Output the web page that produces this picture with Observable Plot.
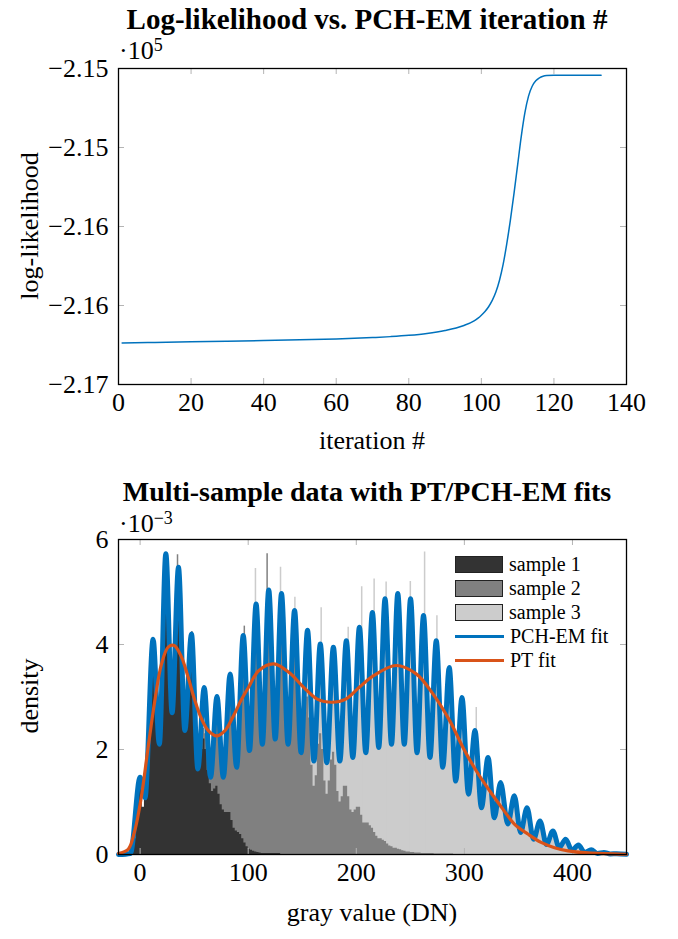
<!DOCTYPE html>
<html><head><meta charset="utf-8">
<script src="https://cdn.jsdelivr.net/npm/d3@7"></script>
<script src="https://cdn.jsdelivr.net/npm/@observablehq/plot@0.6"></script>
<style>
body{margin:0;background:#fff;}
#wrap{position:relative;width:678px;height:939px;font-family:"Liberation Serif","Times New Roman",serif;color:#000;overflow:hidden;}
.p{position:absolute;left:0;}
.lbl{position:absolute;white-space:nowrap;line-height:1;transform:translate(-50%,-50%);}
.title{font-weight:bold;}
.axl{font-size:26px;}
.rot{transform:translate(-50%,-50%) rotate(-90deg);}
.exp{position:absolute;white-space:nowrap;font-size:26px;line-height:1;}
.exp sup{font-size:18px;vertical-align:0;position:relative;top:-8px;line-height:1;}
.leg{position:absolute;left:455px;font-size:20px;line-height:1;}
.row{position:absolute;left:0;height:24px;display:flex;align-items:center;white-space:nowrap;}
.sw{width:46px;height:15px;border:1.5px solid #222;margin-right:6px;}
.ln{width:49px;height:3px;margin-right:6px;}
</style></head><body>
<div id="wrap">
  <div class="lbl title" style="left:367px;top:19px;font-size:29px">Log-likelihood vs. PCH-EM iteration #</div>
  <div class="exp" style="left:119px;top:38px">·10<sup>5</sup></div>
  <div id="p1" class="p" style="top:0"></div>
  <div class="lbl axl rot" style="left:30px;top:226px">log-likelihood</div>
  <div class="lbl axl" style="left:372px;top:441px">iteration #</div>

  <div class="lbl title" style="left:367px;top:492px;font-size:28px">Multi-sample data with PT/PCH-EM fits</div>
  <div class="exp" style="left:119px;top:511px">·10<sup>−3</sup></div>
  <div id="p2" class="p" style="top:470px"></div>
  <div class="lbl axl rot" style="left:30px;top:696px">density</div>
  <div class="lbl axl" style="left:372px;top:913px">gray value (DN)</div>
  <div id="legend" class="leg" style="top:552px"></div>
</div>
<script>
// ---------- Panel 1: log-likelihood vs iteration ----------
const iterations = [1, 10, 20, 30, 40, 50, 60, 65, 70, 75, 80, 85, 90, 95, 98, 99, 100, 101, 102, 103, 104, 105, 106, 107, 108, 109, 110, 111, 112, 113, 114, 115, 116, 117, 118, 120, 125, 130, 133];
const logLik = [-216738, -216734, -216730, -216726, -216722, -216717, -216712, -216708, -216703, -216697, -216689, -216677, -216658, -216628, -216598, -216582, -216562, -216538, -216508, -216468, -216415, -216340, -216240, -216110, -215960, -215790, -215610, -215430, -215280, -215175, -215112, -215078, -215059, -215049, -215045, -215043, -215043, -215043, -215043];
const xTicks1 = [0, 20, 40, 60, 80, 100, 120, 140];
const yTicks1 = [-215000, -215500, -216000, -216500, -217000];
const yTickLabels1 = ["−2.15", "−2.15", "−2.16", "−2.16", "−2.17"];

// ---------- Panel 2: multi-sample histograms and fits (density in 1e-3) ----------
const binWidth = 2;
const sample1Start = -8;
const sample1 = [0.05, 0.3, 0.9, 1.4, 1.35, 0.9, 1.2, 1.9, 3.0, 3.95, 4.0, 3.1, 2.2, 2.4, 4.0, 5.7, 5.43, 4.0, 2.8, 3.06, 4.4, 5.47, 5.0, 3.5, 2.38, 2.6, 3.5, 4.16, 3.8, 2.58, 1.65, 1.7, 2.0, 2.2, 2.0, 1.6, 1.35, 1.2, 1.25, 1.3, 1.15, 0.95, 0.85, 0.8, 0.8, 0.8, 0.65, 0.5, 0.45, 0.42, 0.38, 0.3, 0.22, 0.15, 0.1, 0.08, 0.06, 0.05, 0.04, 0.03, 0.02, 0.02, 0.02, 0.02, 0.02, 0.02, 0.02, 0.02, 0.02];
const sample2Start = 36;
const sample2 = [0.1, 0.2, 0.3, 0.45, 0.6, 0.8, 1.0, 1.2, 1.3, 1.6, 1.9, 2.4, 2.3, 1.95, 1.5, 1.75, 2.5, 3.0, 2.65, 1.85, 1.5, 1.8, 2.7, 3.4, 3.1, 2.2, 1.7, 2.0, 3.2, 4.1, 3.8, 2.7, 2.0, 2.4, 3.8, 4.75, 4.3, 2.9, 2.1, 2.8, 4.25, 5.0, 4.3, 2.9, 2.2, 2.95, 4.35, 4.95, 4.1, 2.65, 2.1, 2.75, 4.0, 4.6, 3.9, 2.45, 1.9, 2.0, 2.7, 3.0, 2.6, 1.7, 1.3, 1.5, 2.1, 2.3, 2.0, 1.4, 1.15, 1.4, 1.8, 1.95, 1.7, 1.2, 1.0, 1.1, 1.3, 1.3, 1.1, 0.85, 0.8, 0.85, 0.9, 0.9, 0.75, 0.6, 0.6, 0.6, 0.55, 0.5, 0.42, 0.35, 0.3, 0.3, 0.27, 0.25, 0.2, 0.16, 0.15, 0.12, 0.12, 0.1, 0.09, 0.07, 0.06, 0.05, 0.05, 0.04, 0.04, 0.03, 0.03, 0.03, 0.02, 0.02, 0.02, 0.02, 0.02, 0.02, 0.01, 0.01, 0.01, 0.01, 0.01, 0.01, 0.01, 0.01, 0.01];
const sample3Start = 100;
const sample3 = [0.1, 0.2, 0.3, 0.4, 0.5, 0.6, 0.7, 0.85, 1.0, 1.15, 1.3, 1.45, 1.55, 1.7, 1.85, 2.0, 2.1, 2.0, 1.9, 2.3, 3.0, 3.5, 3.2, 2.3, 1.9, 2.52, 3.71, 4.27, 3.57, 2.28, 1.78, 2.45, 3.56, 3.99, 3.24, 2.11, 1.75, 2.34, 3.47, 3.95, 3.28, 2.19, 1.78, 2.4, 3.57, 4.07, 3.38, 2.27, 1.85, 2.47, 3.73, 4.33, 3.66, 2.42, 1.94, 2.61, 3.97, 4.61, 3.89, 2.55, 2.04, 2.97, 4.39, 4.85, 3.87, 2.49, 2.1, 3.16, 4.6, 4.88, 3.79, 2.42, 2.18, 3.3, 4.58, 4.72, 3.49, 2.17, 2.01, 3.06, 4.29, 4.42, 3.28, 2.07, 1.98, 2.92, 3.91, 3.9, 2.82, 1.8, 1.77, 2.57, 3.43, 3.41, 2.44, 1.53, 1.53, 2.24, 2.91, 2.81, 1.94, 1.21, 1.25, 1.79, 2.3, 2.21, 1.52, 0.93, 0.96, 1.37, 1.79, 1.76, 1.23, 0.76, 0.79, 1.12, 1.36, 1.25, 0.87, 0.59, 0.6, 0.81, 1.07, 1.09, 0.79, 0.48, 0.45, 0.65, 0.86, 0.85, 0.58, 0.33, 0.31, 0.46, 0.62, 0.61, 0.41, 0.22, 0.21, 0.32, 0.43, 0.42, 0.28, 0.15, 0.14, 0.22, 0.29, 0.27, 0.17, 0.08, 0.09, 0.14, 0.18, 0.16, 0.09, 0.04, 0.05, 0.07, 0.09, 0.08, 0.04, 0.02, 0.03, 0.04, 0.04, 0.03, 0.01, 0.01, 0.01, 0.01, 0.01, 0.01, 0.01, 0.01, 0.01];

// single-DN bins that stand out above the fit (thin spikes)
const spike2X = [34.6, 47.9, 96.4, 117.5];
const spike2Y = [5.71, 4.25, 4.35, 5.73];
const spike3X = [106.7, 129.9, 143.2, 167.5, 192.5, 205, 216.5, 227.6, 250, 263.2, 274.6, 311];
const spike3Y = [5.45, 5.47, 4.9, 4.7, 4.33, 5.1, 5.25, 5.19, 5.2, 5.76, 4.55, 2.8];

// PCH-EM fit: local maxima / minima of the fitted density
const pchX = [-20, -9, 0, 4.5, 12, 17.8, 23.8, 29.6, 35.5, 41.4, 47.5, 53.4, 59.3, 65.2, 71.1, 77.0, 83.3, 89.3, 95.4, 101.2, 107.3, 113.1, 119, 125, 130.8, 136.9, 142.9, 148.9, 154.9, 160.8, 166.7, 172.7, 178.8, 184.8, 190.8, 196.8, 202.9, 208.8, 214.9, 220.8, 226.6, 232.6, 238.4, 244.4, 250.2, 256.2, 262.2, 268.2, 274.0, 280.0, 286.0, 292.0, 297.8, 303.8, 309.8, 315.8, 321.9, 327.7, 333.5, 340.2, 346.2, 352.0, 358.0, 364.0, 370.0, 376.0, 381.9, 387.8, 393.7, 399.6, 405.5, 411.4, 417.3, 423.2, 429.1, 435, 441, 450];
const pchY = [0, 0.02, 1.47, 1.08, 4.1, 2.1, 5.73, 2.7, 5.47, 2.36, 4.2, 1.63, 3.18, 1.47, 3.01, 1.47, 3.44, 1.66, 4.17, 1.98, 4.77, 2.1, 5.04, 2.2, 4.97, 2.1, 4.65, 1.94, 4.27, 1.78, 4.01, 1.75, 3.95, 1.78, 4.07, 1.85, 4.33, 1.94, 4.61, 2.04, 4.87, 2.1, 4.97, 2.1, 4.87, 1.94, 4.55, 1.85, 4.07, 1.66, 3.56, 1.40, 2.99, 1.15, 2.36, 0.89, 1.85, 0.70, 1.37, 0.58, 1.12, 0.42, 0.89, 0.29, 0.64, 0.19, 0.45, 0.13, 0.29, 0.08, 0.18, 0.04, 0.09, 0.02, 0.04, 0.01, 0.015, 0.005];

// PT fit
const ptX = [-20, -11, -5, 1, 7.4, 13.6, 19.8, 26, 31.5, 38.3, 44.5, 50.7, 56.9, 63.1, 70.8, 78.5, 86.3, 94, 100.2, 109.7, 123.7, 137.6, 151.5, 163.9, 177.8, 190.2, 202.5, 216.4, 236.8, 255.4, 270.9, 286.4, 298.7, 311.1, 323.5, 335.8, 346.3, 358.7, 371, 383.4, 395.8, 414.4, 450];
const ptY = [0.02, 0.1, 0.45, 1.08, 2.04, 2.93, 3.63, 3.95, 3.98, 3.76, 3.37, 2.93, 2.58, 2.36, 2.26, 2.36, 2.64, 2.96, 3.18, 3.5, 3.63, 3.47, 3.18, 2.96, 2.9, 2.96, 3.18, 3.41, 3.6, 3.44, 3.06, 2.55, 2.04, 1.59, 1.21, 0.86, 0.58, 0.39, 0.23, 0.13, 0.07, 0.03, 0.005];

const xTicks2 = [0, 100, 200, 300, 400];
const yTicks2 = [0, 2, 4, 6];
const yTickLabels2 = ["0", "2", "4", "6"];

const legendNames = ["sample 1", "sample 2", "sample 3", "PCH-EM fit", "PT fit"];
const sampleColors = ["#333333", "#808080", "#cccccc"];
const blue = "#0072BD", orange = "#D95319";

// ---------- build ----------
const W = 678;
const font = {fontFamily: "'Liberation Serif','Times New Roman',serif", fontSize: "26px", background: "transparent", overflow: "visible"};

function frameTicks(xt, yt, fw, fh) {
  const tc = "#b4b4b4";
  return [
    Plot.tickX(xt, {x: d => d, insetTop: fh - 6, stroke: tc}),
    Plot.tickX(xt, {x: d => d, insetBottom: fh - 6, stroke: tc}),
    Plot.tickY(yt, {y: d => d, insetRight: fw - 6, stroke: tc}),
    Plot.tickY(yt, {y: d => d, insetLeft: fw - 6, stroke: tc})
  ];
}

// Panel 1
{
  const H = 470, mt = 68, mb = 86, ml = 118, mr = 52;
  const fw = W - ml - mr, fh = H - mt - mb;
  const labelMap = new Map(yTicks1.map((v, i) => [v, yTickLabels1[i]]));
  const data = iterations.map((it, i) => ({it, ll: logLik[i]}));
  const p = Plot.plot({
    width: W, height: H, marginTop: mt, marginBottom: mb, marginLeft: ml, marginRight: mr,
    style: font,
    x: {domain: [0, 140]},
    y: {domain: [-217000, -215000]},
    marks: [
      ...frameTicks(xTicks1, yTicks1, fw, fh),
      Plot.line(data, {x: "it", y: "ll", curve: "monotone-x", stroke: blue, strokeWidth: 1.5}),
      Plot.frame({stroke: "#000", strokeWidth: 1.3}),
      Plot.axisX({ticks: xTicks1, tickSize: 0, tickPadding: 8, label: null, fontSize: 26}),
      Plot.axisY({ticks: yTicks1, tickSize: 0, tickPadding: 10, label: null, fontSize: 26, tickFormat: d => labelMap.get(d)})
    ]
  });
  document.getElementById("p1").appendChild(p);
}

// Panel 2
{
  const H = 469, mt = 69, mb = 85, ml = 118, mr = 52;
  const fw = W - ml - mr, fh = H - mt - mb;
  const labelMap = new Map(yTicks2.map((v, i) => [v, yTickLabels2[i]]));
  const toBins = (start, vals) => {
    const out = vals.map((v, i) => ({x: start + i * binWidth, v}));
    out.push({x: start + vals.length * binWidth, v: 0});
    return out;
  };
  const s1 = toBins(sample1Start, sample1), s2 = toBins(sample2Start, sample2), s3 = toBins(sample3Start, sample3);
  const sp2 = spike2X.map((x, i) => ({x, y: spike2Y[i]}));
  const sp3 = spike3X.map((x, i) => ({x, y: spike3Y[i]}));
  const pch = pchX.map((x, i) => ({x, y: pchY[i]}));
  const pt = ptX.map((x, i) => ({x, y: ptY[i]}));
  const p = Plot.plot({
    width: W, height: H, marginTop: mt, marginBottom: mb, marginLeft: ml, marginRight: mr,
    style: font,
    x: {domain: [-20, 450]},
    y: {domain: [0, 6]},
    marks: [
      Plot.areaY(s3, {x: "x", y1: 0, y2: "v", curve: "step-after", fill: sampleColors[2]}),
      Plot.ruleX(sp3, {x: "x", y1: 0, y2: "y", stroke: sampleColors[2], strokeWidth: 1.5}),
      Plot.areaY(s2, {x: "x", y1: 0, y2: "v", curve: "step-after", fill: sampleColors[1]}),
      Plot.ruleX(sp2, {x: "x", y1: 0, y2: "y", stroke: sampleColors[1], strokeWidth: 1.5}),
      Plot.areaY(s1, {x: "x", y1: 0, y2: "v", curve: "step-after", fill: sampleColors[0]}),
      ...frameTicks(xTicks2, yTicks2, fw, fh),
      Plot.line(pch, {x: "x", y: "y", curve: "monotone-x", stroke: blue, strokeWidth: 5}),
      Plot.line(pt, {x: "x", y: "y", curve: "catmull-rom", stroke: orange, strokeWidth: 3.2}),
      Plot.frame({stroke: "#000", strokeWidth: 1.3}),
      Plot.axisX({ticks: xTicks2, tickSize: 0, tickPadding: 8, label: null, fontSize: 26}),
      Plot.axisY({ticks: yTicks2, tickSize: 0, tickPadding: 10, label: null, fontSize: 26, tickFormat: d => labelMap.get(d)})
    ]
  });
  document.getElementById("p2").appendChild(p);
}

// Legend
{
  const leg = document.getElementById("legend");
  legendNames.forEach((name, i) => {
    const row = document.createElement("div");
    row.className = "row";
    row.style.top = (i * 24) + "px";
    const sw = document.createElement("div");
    if (i < 3) { sw.className = "sw"; sw.style.background = sampleColors[i]; }
    else { sw.className = "ln"; sw.style.background = i === 3 ? blue : orange; }
    const t = document.createElement("span");
    t.textContent = name;
    row.appendChild(sw); row.appendChild(t);
    leg.appendChild(row);
  });
}
</script>
</body></html>
